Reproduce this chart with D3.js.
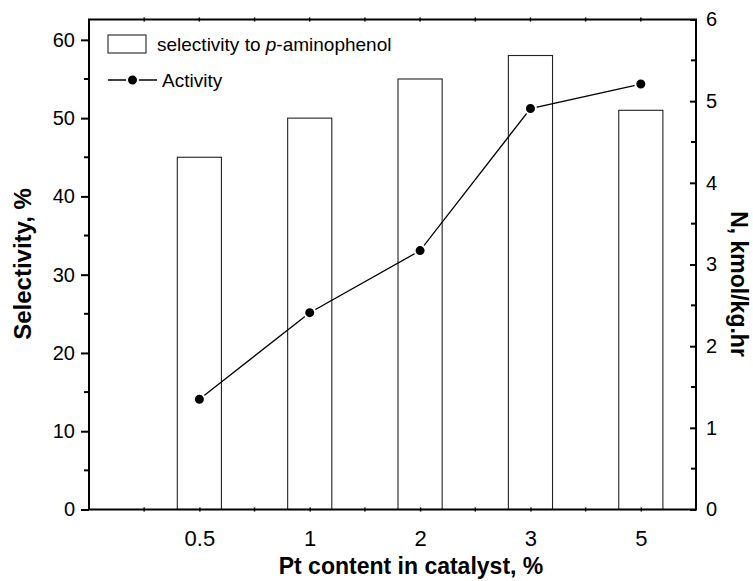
<!DOCTYPE html>
<html>
<head>
<meta charset="utf-8">
<script src="https://cdn.jsdelivr.net/npm/d3@7"></script>
<style>
  html, body { margin: 0; padding: 0; background: #fff; }
  svg { display: block; font-family: "Liberation Sans", Arial, sans-serif; }
</style>
</head>
<body>
<script>
// Pt loading in the catalyst (x categories)
const categories = ["0.5", "1", "2", "3", "5"];
// Selectivity to p-aminophenol, % (bars, left axis)
const selectivity = [45, 50, 55, 58, 51];
// Activity N, kmol/kg.hr (line, right axis)
const activity = [1.35, 2.41, 3.17, 4.91, 5.21];
// Axis tick values
const leftTicks = [0, 10, 20, 30, 40, 50, 60];
const leftMinor = [5, 15, 25, 35, 45, 55];
const rightTicks = [0, 1, 2, 3, 4, 5, 6];
const rightMinor = [0.5, 1.5, 2.5, 3.5, 4.5, 5.5];

const W = 753, H = 581;
const L = 89, R = 696, T = 19.5, B = 509.5;

const svg = d3.select("body").append("svg")
  .attr("width", W).attr("height", H);

const x = d3.scaleLinear().domain([-1, 4.5]).range([L, R]);
const yL = d3.scaleLinear().domain([0, 62.6]).range([B, T]);
const yR = d3.scaleLinear().domain([0, 6]).range([B, T]);

const barW = 0.4;

// Bars
svg.append("g").selectAll("rect")
  .data(selectivity)
  .join("rect")
  .attr("x", (d, i) => x(i - barW / 2))
  .attr("width", (d, i) => x(i + barW / 2) - x(i - barW / 2))
  .attr("y", d => yL(d))
  .attr("height", d => B - yL(d))
  .attr("fill", "#fff")
  .attr("stroke", "#222")
  .attr("stroke-width", 1.1);

// Activity line
const line = d3.line().x((d, i) => x(i)).y(d => yR(d));
svg.append("path")
  .datum(activity)
  .attr("d", line)
  .attr("fill", "none")
  .attr("stroke", "#000")
  .attr("stroke-width", 1.3);

svg.append("g").selectAll("circle")
  .data(activity)
  .join("circle")
  .attr("cx", (d, i) => x(i))
  .attr("cy", d => yR(d))
  .attr("r", 5.5)
  .attr("fill", "#000")
  .attr("stroke", "#fff")
  .attr("stroke-width", 2);

// Frame
svg.append("rect")
  .attr("x", L).attr("y", T)
  .attr("width", R - L).attr("height", B - T)
  .attr("fill", "none")
  .attr("stroke", "#000")
  .attr("stroke-width", 2);

// Bottom axis
const idx = d3.range(categories.length);
const xAxis = d3.axisBottom(x)
  .tickValues(idx)
  .tickFormat(i => categories[i])
  .tickSize(2)
  .tickPadding(19);
const gx = svg.append("g").attr("transform", `translate(0,${B})`).call(xAxis);
gx.select(".domain").remove();
gx.selectAll(".tick line").attr("y1", -2).attr("stroke-width", 1.5);
gx.selectAll("text").attr("font-size", 22).attr("fill", "#000");

const halfIdx = [-0.5, 0.5, 1.5, 2.5, 3.5];
svg.append("g").selectAll("line.mb")
  .data(halfIdx).join("line")
  .attr("x1", d => x(d)).attr("x2", d => x(d))
  .attr("y1", B - 2).attr("y2", B + 2)
  .attr("stroke", "#000").attr("stroke-width", 1.5);

// Top mirrored ticks
svg.append("g").selectAll("line.mt")
  .data(idx.concat(halfIdx)).join("line")
  .attr("x1", d => x(d)).attr("x2", d => x(d))
  .attr("y1", T - 2).attr("y2", T + 2)
  .attr("stroke", "#000").attr("stroke-width", 1.5);

// Left axis
const yAxisL = d3.axisLeft(yL).tickValues(leftTicks).tickSize(8).tickPadding(6);
const gl = svg.append("g").attr("transform", `translate(${L},0)`).call(yAxisL);
gl.select(".domain").remove();
gl.selectAll(".tick line").attr("stroke-width", 2);
gl.selectAll("text").attr("font-size", 20).attr("fill", "#000");
svg.append("g").selectAll("line")
  .data(leftMinor).join("line")
  .attr("x1", L - 5).attr("x2", L)
  .attr("y1", d => yL(d)).attr("y2", d => yL(d))
  .attr("stroke", "#000").attr("stroke-width", 2);

// Right axis (ticks pointing inward)
const yAxisR = d3.axisRight(yR).tickValues(rightTicks).tickFormat(d3.format("d"))
  .tickSize(-6).tickPadding(10);
const gr = svg.append("g").attr("transform", `translate(${R},0)`).call(yAxisR);
gr.select(".domain").remove();
gr.selectAll(".tick line").attr("stroke-width", 2);
gr.selectAll("text").attr("font-size", 20).attr("fill", "#000");
svg.append("g").selectAll("line")
  .data(rightMinor).join("line")
  .attr("x1", R - 5).attr("x2", R)
  .attr("y1", d => yR(d)).attr("y2", d => yR(d))
  .attr("stroke", "#000").attr("stroke-width", 2);

// Axis titles
svg.append("text")
  .attr("x", 411).attr("y", 574)
  .attr("text-anchor", "middle")
  .attr("font-size", 23).attr("font-weight", "bold")
  .text("Pt content in catalyst, %");

svg.append("text")
  .attr("transform", "translate(31,264) rotate(-90)")
  .attr("text-anchor", "middle")
  .attr("font-size", 24).attr("font-weight", "bold")
  .text("Selectivity, %");

svg.append("text")
  .attr("transform", "translate(731,284) rotate(90)")
  .attr("text-anchor", "middle")
  .attr("font-size", 23).attr("font-weight", "bold")
  .text("N, kmol/kg.hr");

// Legend
const lg = svg.append("g");
lg.append("rect")
  .attr("x", 108).attr("y", 35).attr("width", 38).attr("height", 18)
  .attr("fill", "#fff").attr("stroke", "#222").attr("stroke-width", 1.1);
const t1 = lg.append("text").attr("x", 157).attr("y", 51).attr("font-size", 19);
t1.append("tspan").text("selectivity to ");
t1.append("tspan").attr("font-style", "italic").text("p");
t1.append("tspan").text("-aminophenol");

lg.append("line")
  .attr("x1", 108).attr("x2", 157).attr("y1", 80).attr("y2", 80)
  .attr("stroke", "#000").attr("stroke-width", 1.3);
lg.append("circle")
  .attr("cx", 132.5).attr("cy", 80).attr("r", 5.5)
  .attr("fill", "#000").attr("stroke", "#fff").attr("stroke-width", 2);
lg.append("text").attr("x", 162).attr("y", 87).attr("font-size", 19).text("Activity");
</script>
</body>
</html>
